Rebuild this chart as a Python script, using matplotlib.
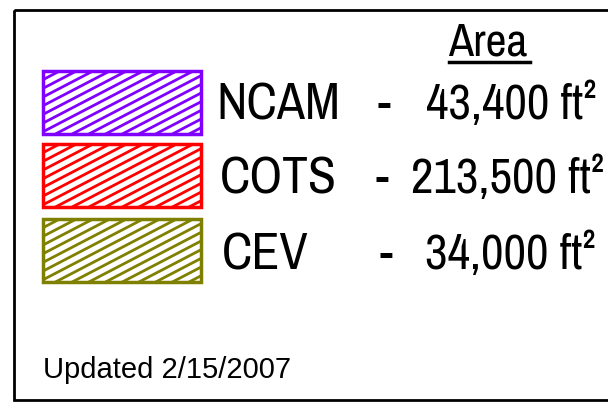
import matplotlib
matplotlib.use("Agg")
import matplotlib.pyplot as plt
from matplotlib.patches import Rectangle
import numpy as np

categories = ["NCAM", "COTS", "CEV"]
areas = [43400, 213500, 34000]
colors = ["#8000FF", "#FF0000", "#808000"]
header = "Area"
footnote = "Updated 2/15/2007"

FONT = ["Archivo Narrow", "DejaVu Sans"]
FONT2 = ["Liberation Sans", "DejaVu Sans"]

fig = plt.figure(figsize=(6.08, 4.03), dpi=100)
ax = fig.add_axes([0, 0, 1, 1])
ax.set_xlim(0, 608)
ax.set_ylim(403, 0)
ax.axis("off")

# frame
ax.add_patch(Rectangle((14, 10), 620, 390, fill=False, lw=2, ec="black"))

row_top = [71, 144, 219]
row_h = 63
box_x0, box_w = 43, 158
baselines = [119, 193, 269]
label_x = [216, 220, 222]
dash_x = [384, 382, 386]
value_x = [426, 411, 425]

def hatch_box(x0, y0, w, h, color):
    rect = Rectangle((x0, y0), w, h, fill=False, lw=2.5, ec=color, zorder=3)
    ax.add_patch(rect)
    clip = Rectangle((x0, y0), w, h, fill=False, lw=0, transform=ax.transData)
    slope = 0.52
    step = 16.7
    xs = np.arange(x0 - h / slope - step, x0 + w + step, step)
    for xs0 in xs:
        ln, = ax.plot([xs0, xs0 + h / slope], [y0 + h, y0], color=color, lw=2.0, zorder=2)
        ln.set_clip_path(clip)

for i, (cat, a, c) in enumerate(zip(categories, areas, colors)):
    hatch_box(box_x0, row_top[i], box_w, row_h, c)
    yb = baselines[i]
    ax.text(label_x[i], yb, cat, fontsize=37, family=FONT, ha="left", va="baseline")
    ax.text(dash_x[i], yb, "-", fontsize=34, family=FONT, ha="center", va="baseline")
    ax.text(value_x[i], yb, f"{a:,} ft²", fontsize=35.5, family=FONT, ha="left", va="baseline")

ax.text(448, 55, header, fontsize=33, family=FONT, ha="left", va="baseline")
ax.plot([449, 530], [62, 62], color="black", lw=2.5)

ax.text(43, 378, footnote, fontsize=21, family=FONT2, ha="left", va="baseline")

fig.savefig("out.png", dpi=100)
